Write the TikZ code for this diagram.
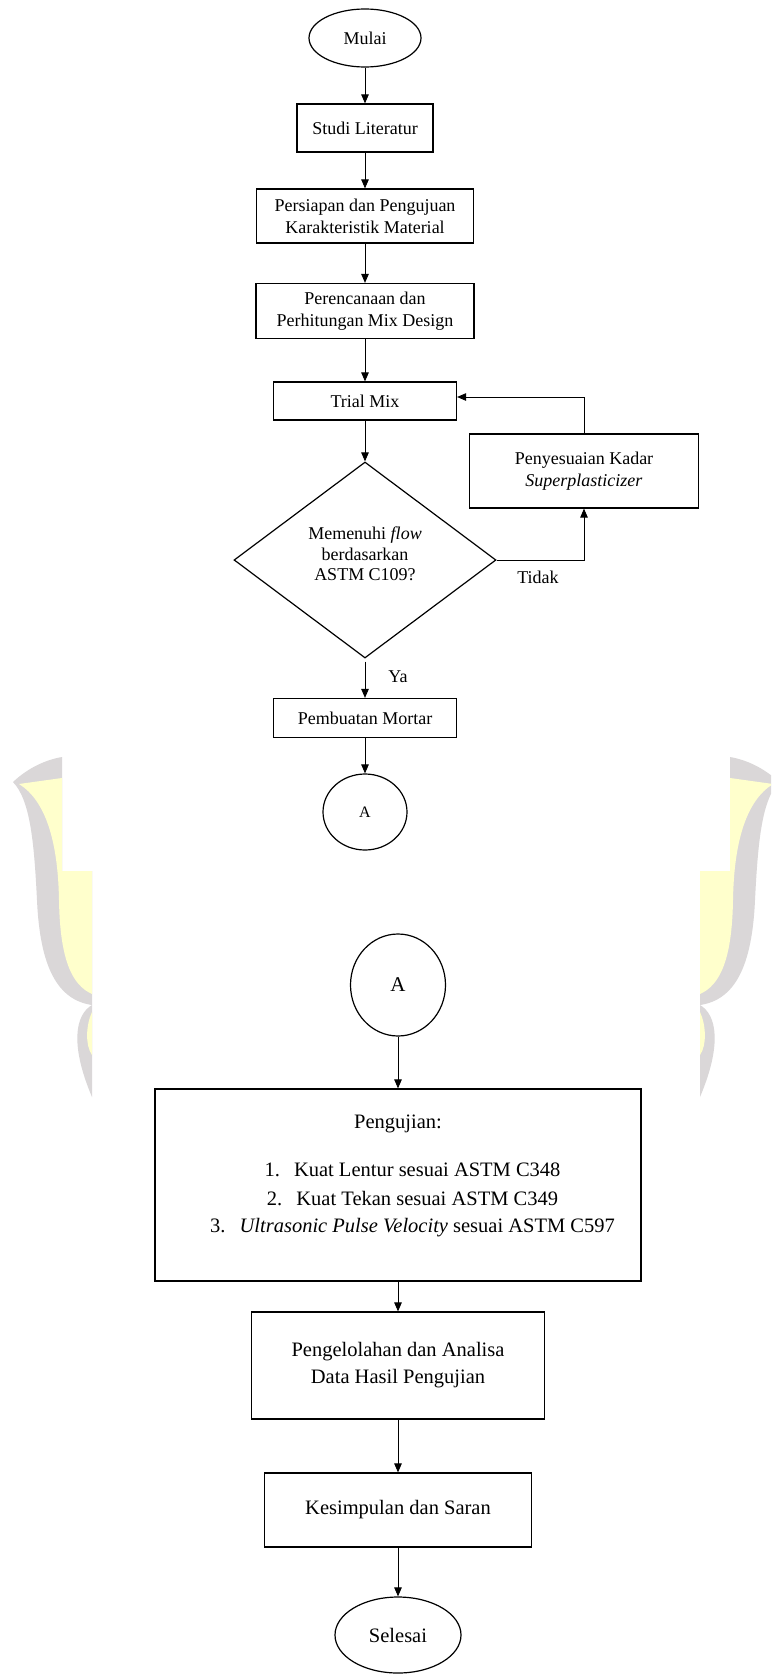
\documentclass[tikz,border=0pt]{standalone}
\usepackage{fontspec}
\setmainfont{Liberation Serif}
\usetikzlibrary{shapes.geometric,arrows.meta,calc}
\definecolor{wmgray}{HTML}{DAD7D8}
\definecolor{wmyellow}{HTML}{FFFFCC}
\newcommand\fntTop{\fontsize{18}{22}\selectfont}
\newcommand\fntDia{\fontsize{18}{20.5}\selectfont}
\newcommand\fntBot{\fontsize{20.5}{27}\selectfont}
\newcommand\wmarkShape{%
  \fill[wmgray] (13,782) .. controls (28,768) and (45,760) .. (62,757) -- (62,871) -- (92,871) -- (92,1005)
     .. controls (58,1000) and (40,968) .. (37,900) .. controls (34,840) and (30,800) .. (13,782) -- cycle;
  \fill[wmyellow] (19,784) -- (62,778) -- (62,871) -- (92,871) -- (92,994)
     .. controls (72,985) and (60,960) .. (59,900) .. controls (58,840) and (45,800) .. (19,784) -- cycle;
  \fill[wmgray] (92,1005) .. controls (75,1015) and (70,1045) .. (92,1097) -- cycle;
  \fill[wmyellow] (92,1012) .. controls (86,1025) and (85,1045) .. (92,1055) -- cycle;
}
\tikzset{
  box/.style={draw, rectangle, line width=1.2pt, inner sep=0pt, align=center},
  term/.style={draw, ellipse, line width=1.2pt, inner sep=0pt, align=center},
  lbl/.style={inner sep=0pt, align=center},
  arr/.style={-{Triangle[length=9pt,width=7.5pt]}, line width=0.9pt},
  line/.style={line width=0.9pt}
}
\begin{document}
\begin{tikzpicture}[x=1pt,y=-1pt]
\useasboundingbox (0,0) rectangle (771,1675);
\clip (0,0) rectangle (771,1675);
\fill[white] (0,0) rectangle (771,1675);
% watermark
\wmarkShape
\begin{scope}[xshift=792pt,xscale=-1]
\wmarkShape
\end{scope}

% upper chart
\node[term, font=\fntTop, minimum width=112pt, minimum height=58pt] (mulai) at (365,38) {Mulai};
\node[box, font=\fntTop, minimum width=136pt, minimum height=48pt] (studi) at (365,128) {Studi Literatur};
\node[box, font=\fntTop, minimum width=217pt, minimum height=54pt] (persiapan) at (365,216) {Persiapan dan Pengujuan\\Karakteristik Material};
\node[box, font=\fntTop, minimum width=218pt, minimum height=55pt] (perenc) at (365,311) {Perencanaan dan\\Perhitungan Mix Design};
\node[box, font=\fntTop, minimum width=183pt, minimum height=38pt] (trial) at (365,401) {Trial Mix};
\node[diamond, draw, line width=1.2pt, inner sep=0pt, minimum width=262pt, minimum height=196pt] (dec) at (365,560) {};
\node[lbl, font=\fntDia] (dectext) at (365,554) {Memenuhi \textit{flow}\\berdasarkan\\ASTM C109?};
\node[box, font=\fntTop, minimum width=229pt, minimum height=74pt] (peny) at (584,471) {Penyesuaian Kadar\\\textit{Superplasticizer}};
\node[box, font=\fntTop, minimum width=183pt, minimum height=39pt] (mortar) at (365,718) {Pembuatan Mortar};
\node[term, font=\fontsize{16}{18}\selectfont, minimum width=84pt, minimum height=76pt] (a1) at (365,812) {A};
\node[lbl, font=\fntTop] (tidak) at (538,577) {Tidak};
\node[lbl, font=\fntTop] (ya) at (398,677) {Ya};

\draw[arr] (mulai) -- (studi);
\draw[arr] (studi) -- (persiapan);
\draw[arr] (persiapan) -- (perenc);
\draw[arr] (perenc) -- (trial);
\draw[arr] (trial) -- (dec);
\draw[arr] ($(dec.south)+(0,3)$) -- (mortar);
\draw[arr] (mortar) -- (a1);
\draw[arr] (dec.east) -| (peny.south);
\draw[arr] (peny.north) |- ($(trial.east)+(0,-4)$);

% lower chart
\node[term, font=\fontsize{21}{24}\selectfont, minimum width=95pt, minimum height=102pt] (a2) at (398,985) {A};
\node[box, minimum width=486pt, minimum height=192pt] (uji) at (398,1185) {};
\node[lbl, font=\fntBot] (ujiT) at (398,1124) {Pengujian:};
\node[lbl, font=\fntBot] (u1) at (412.5,1170) {\makebox[29.5pt][l]{1.}Kuat Lentur sesuai ASTM C348};
\node[lbl, font=\fntBot] (u2) at (412.5,1199) {\makebox[29.5pt][l]{2.}Kuat Tekan sesuai ASTM C349};
\node[lbl, font=\fntBot] (u3) at (412.5,1228) {\makebox[29.5pt][l]{3.}\textit{Ultrasonic Pulse Velocity} sesuai ASTM C597};
\node[box, font=\fntBot, minimum width=293pt, minimum height=107pt] (olah) at (398,1365.5) {Pengelolahan dan Analisa\\Data Hasil Pengujian};
\node[box, font=\fntBot, minimum width=267pt, minimum height=74pt] (kes) at (398,1510) {Kesimpulan dan Saran};
\node[term, font=\fntBot, minimum width=126pt, minimum height=76pt] (selesai) at (398,1635) {Selesai};

\draw[arr] (a2) -- (uji);
\draw[arr] (uji) -- (olah);
\draw[arr] (olah) -- (kes);
\draw[arr] (kes) -- (selesai);
\end{tikzpicture}
\end{document}
